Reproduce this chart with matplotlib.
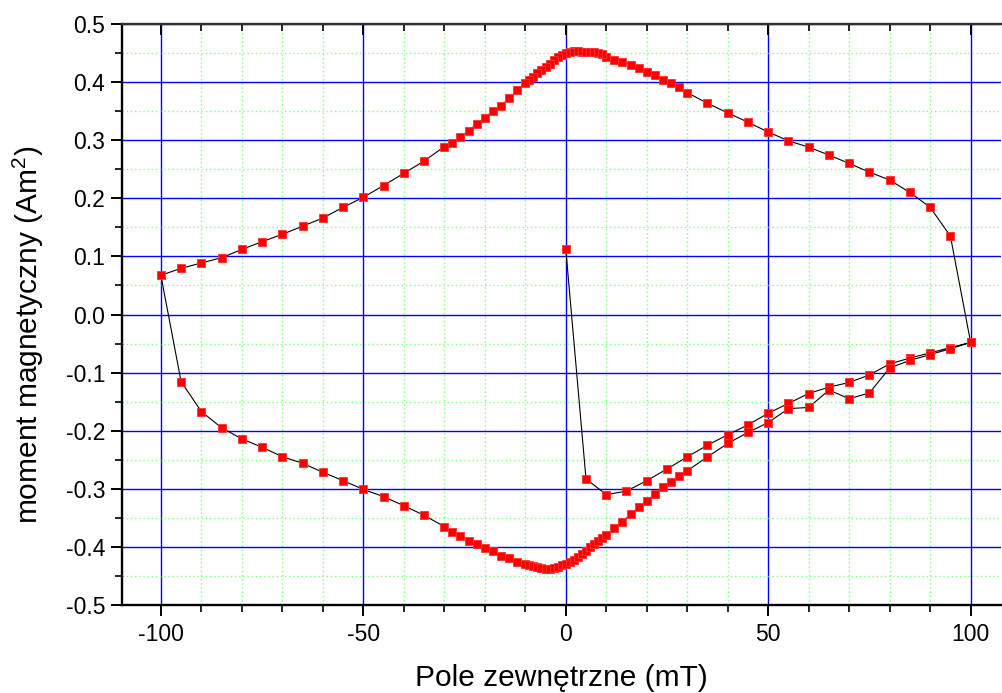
import matplotlib
matplotlib.use("Agg")
import matplotlib.pyplot as plt
from matplotlib.ticker import MultipleLocator

plt.rcParams['font.family'] = ['Liberation Sans', 'DejaVu Sans']
plt.rcParams['axes.unicode_minus'] = False
plt.rcParams['mathtext.default'] = 'regular'

# Initial (virgin) magnetisation branch: 0 -> +100 mT
virgin_x = [0, 5, 10, 15, 20, 25, 30, 35, 40, 45, 50, 55, 60, 65, 70, 75, 80, 85, 90, 95, 100]
virgin_y = [0.113, -0.283, -0.310, -0.304, -0.286, -0.266, -0.245, -0.225, -0.207, -0.190,
            -0.170, -0.153, -0.136, -0.125, -0.117, -0.104, -0.085, -0.075, -0.066, -0.057, -0.048]

# Descending branch: +95 -> -100 mT
down_x = [95, 90, 85, 80, 75, 70, 65, 60, 55, 50, 45, 40, 35,
          30, 28, 26, 24, 22, 20, 18, 16, 14, 12,
          10, 9, 8, 7, 6, 5, 4, 3, 2, 1, 0, -1, -2, -3, -4, -5, -6, -7, -8, -9, -10,
          -12, -14, -16, -18, -20, -22, -24, -26, -28, -30,
          -35, -40, -45, -50, -55, -60, -65, -70, -75, -80, -85, -90, -95, -100]
down_y = [0.135, 0.1845, 0.210, 0.2315, 0.245, 0.260, 0.2745, 0.288, 0.299, 0.314, 0.331, 0.347, 0.3635,
          0.382, 0.391, 0.398, 0.404, 0.412, 0.418, 0.424, 0.4295, 0.434, 0.438,
          0.443, 0.448, 0.450, 0.451, 0.451, 0.452, 0.452, 0.453, 0.453, 0.452, 0.450,
          0.4467, 0.4427, 0.438, 0.432, 0.4265, 0.421, 0.415, 0.409, 0.4036, 0.399,
          0.386, 0.372, 0.359, 0.350, 0.339, 0.328, 0.316, 0.305, 0.296, 0.289,
          0.264, 0.243, 0.222, 0.2017, 0.1845, 0.166, 0.152, 0.138, 0.1253, 0.112, 0.0978, 0.0886, 0.0795, 0.0675]

# Ascending branch: -95 -> +100 mT
up_x = [-95, -90, -85, -80, -75, -70, -65, -60, -55, -50, -45, -40, -35,
        -30, -28, -26, -24, -22, -20, -18, -16, -14, -12,
        -10, -9, -8, -7, -6, -5, -4, -3, -2, -1, 0, 1, 2, 3, 4, 5, 6, 7, 8, 9, 10,
        12, 14, 16, 18, 20, 22, 24, 26, 28, 30,
        35, 40, 45, 50, 55, 60, 65, 70, 75, 80, 85, 90, 95, 100]
up_y = [-0.1157, -0.167, -0.195, -0.214, -0.2286, -0.2447, -0.256, -0.2716, -0.286, -0.3009, -0.3136, -0.329, -0.3456,
        -0.365, -0.374, -0.3807, -0.389, -0.395, -0.4024, -0.407, -0.415, -0.4197, -0.4255,
        -0.430, -0.431, -0.433, -0.435, -0.437, -0.4386, -0.4386, -0.437, -0.434, -0.432, -0.430,
        -0.4265, -0.4225, -0.418, -0.412, -0.4065, -0.400, -0.395, -0.389, -0.384, -0.3795,
        -0.368, -0.357, -0.344, -0.332, -0.321, -0.309, -0.297, -0.288, -0.278, -0.269,
        -0.245, -0.222, -0.203, -0.186, -0.162, -0.160, -0.130, -0.145, -0.135, -0.092, -0.079, -0.069, -0.059, -0.048]

x_ticks = [-100, -50, 0, 50, 100]
y_ticks = [-0.5, -0.4, -0.3, -0.2, -0.1, 0.0, 0.1, 0.2, 0.3, 0.4, 0.5]

field = virgin_x + down_x + up_x
moment = virgin_y + down_y + up_y

W, H = 1003, 693
fig = plt.figure(figsize=(W / 100, H / 100), dpi=100)
ax = fig.add_axes([122 / W, 88 / H, 879 / W, 581 / H])

ax.plot(field, moment, color='black', lw=0.8, marker='s', ms=6.2,
        mfc='#ff0000', mec='#ff3030', mew=0.6, zorder=3)

ax.set_xlim(-109.6, 107.5)
ax.set_ylim(-0.5, 0.5)
ax.set_xticks(x_ticks)
ax.set_yticks(y_ticks)
ax.set_yticklabels([f"{v:.1f}" for v in y_ticks])
ax.xaxis.set_minor_locator(MultipleLocator(10))
ax.yaxis.set_minor_locator(MultipleLocator(0.05))

ax.grid(which='major', color='#0000ff', lw=1.0, ls='-', zorder=0)
ax.grid(which='minor', color='#7fff7f', lw=1.0, ls=(0, (1, 2)), zorder=0)
ax.set_axisbelow(True)

for s in ['left', 'bottom', 'top']:
    ax.spines[s].set_linewidth(1.7)
    ax.spines[s].set_color('black')
ax.spines['top'].set_color('#333333')
ax.spines['right'].set_visible(False)

ax.tick_params(axis='x', which='both', bottom=True, top=True, direction='out', labelsize=16.5)
ax.tick_params(axis='x', which='major', length=8, width=1.4, pad=5)
ax.tick_params(axis='x', which='minor', length=5, width=1.2)
ax.tick_params(axis='y', which='both', left=True, right=False, direction='out', labelsize=16.5)
ax.tick_params(axis='y', which='major', length=8, width=1.4, pad=4)
ax.tick_params(axis='y', which='minor', length=5, width=1.2)
# top ticks point inward
for t in ax.xaxis.get_major_ticks() + ax.xaxis.get_minor_ticks():
    t.tick2line.set_marker(matplotlib.lines.TICKDOWN)

ax.set_xlabel('Pole zewnętrzne (mT)', fontsize=21.5, labelpad=13)
ax.set_ylabel('moment magnetyczny (Am$^{2}$)', fontsize=21.5)
ax.yaxis.set_label_coords(-0.086, 0.465)

fig.savefig('out.png', dpi=100)
